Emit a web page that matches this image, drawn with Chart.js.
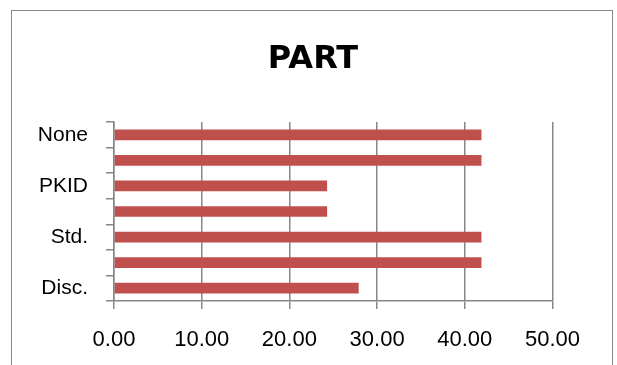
<!DOCTYPE html>
<html>
<head>
<meta charset="utf-8">
<script src="https://cdn.jsdelivr.net/npm/chart.js@4"></script>
<style>
  html, body { margin: 0; padding: 0; background: #fff; overflow: hidden; }
  #wrap { position: relative; width: 617px; height: 365px; }
  #frame { position: absolute; left: 11px; top: 10px; width: 602px; height: 400px;
           border: 1.5px solid #8a8a8a; box-sizing: border-box; }
  canvas { position: absolute; left: 0; top: 0; }
</style>
</head>
<body>
<div id="wrap">
  <div id="frame"></div>
  <canvas id="chart" width="617" height="365"></canvas>
</div>
<script>
// categories top to bottom (only every other one gets a label in the original)
const categories = ['None', '', 'PKID', '', 'Std.', '', 'Disc.'];
const values     = [41.9, 41.9, 24.3, 24.3, 41.9, 41.9, 27.9];
const xTicks     = [0, 10, 20, 30, 40, 50];

const FONT = "'Liberation Sans', Arial, sans-serif";
const GRID = '#878787';

// centre the title on the framed box rather than the padded layout width
const centreTitle = {
  id: 'centreTitle',
  afterLayout(chart) {
    const t = chart.titleBlock;
    if (t) { t.left = 0; t.right = 626; t.width = 626; }
  }
};

new Chart(document.getElementById('chart').getContext('2d'), {
  type: 'bar',
  data: {
    labels: categories,
    datasets: [{
      data: values,
      backgroundColor: '#C0504D',
      borderWidth: 0,
      barPercentage: 0.84,
      categoryPercentage: 0.5
    }]
  },
  options: {
    indexAxis: 'y',
    responsive: false,
    animation: false,
    layout: { padding: { left: 0, right: 64.5, top: 0, bottom: 0 } },
    plugins: {
      legend: { display: false },
      tooltip: { enabled: false },
      title: {
        display: true,
        text: 'PART',
        color: '#000',
        font: { family: "'DejaVu Sans', sans-serif", size: 32, weight: 'bold' },
        padding: { top: 40, bottom: 43.6 }
      }
    },
    scales: {
      x: {
        min: xTicks[0],
        max: xTicks[xTicks.length - 1],
        afterBuildTicks: s => { s.ticks = xTicks.map(v => ({ value: v })); },
        afterFit: s => { s.height = 64; },
        ticks: {
          color: '#000',
          font: { family: FONT, size: 22 },
          padding: 18,
          maxRotation: 0,
          callback: v => Number(v).toFixed(2)
        },
        grid: { color: GRID, lineWidth: 1.5, tickLength: 8 },
        border: { color: GRID, width: 1.5 }
      },
      y: {
        afterFit: s => { s.width = 114; },
        ticks: {
          color: '#000',
          font: { family: FONT, size: 21 },
          padding: 18,
          autoSkip: false
        },
        grid: { drawOnChartArea: false, color: GRID, lineWidth: 1.5, tickLength: 8, offset: true },
        border: { color: GRID, width: 1.5 }
      }
    }
  },
  plugins: [centreTitle]
});
</script>
</body>
</html>
